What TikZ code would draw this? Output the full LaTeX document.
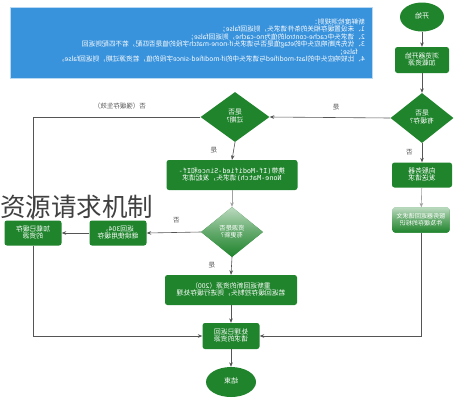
\documentclass[tikz,border=0pt]{standalone}
\usepackage{fontspec}
\setmainfont{Noto Sans CJK SC}
\newfontfamily\monof{DejaVu Sans Mono}
\usetikzlibrary{shapes.geometric,arrows.meta}
\definecolor{G}{RGB}{31,132,44}
\definecolor{B}{RGB}{56,146,220}
\definecolor{L}{RGB}{85,85,85}
\newcommand{\mt}[1]{\reflectbox{\begin{tabular}{@{}c@{}}#1\end{tabular}}}
\begin{document}
\begin{tikzpicture}[x=1pt,y=-1pt,
  gbox/.style={fill=G,rounded corners=2.5pt,text=white,inner sep=0pt,
    font=\fontsize{6.8}{8.2}\selectfont},
  gdia/.style={diamond,fill=G,text=white,inner sep=0pt,
    font=\fontsize{6.8}{8.2}\selectfont},
  term/.style={ellipse,fill=G,text=white,inner sep=0pt,
    font=\fontsize{7}{8.4}\selectfont},
  faded/.style={top color=G!30!white,bottom color=G,middle color=G!70!white},
  ln/.style={draw=L,line width=0.6pt,-{Stealth[length=4.5pt,width=3.6pt]}},
  lab/.style={text=L,font=\fontsize{6.5}{7.5}\selectfont,inner sep=0pt}]
\useasboundingbox[fill=white] (0,0) rectangle (457,400);
\renewcommand{\arraystretch}{0.78}
% blue rules box
\node[fill=B,draw=B!35!white,line width=1pt,minimum width=362pt,minimum height=71pt,anchor=north west] (rules) at (10,7) {};
\node[anchor=east,text=white,inner sep=0pt,font=\fontsize{6.7}{8}\selectfont] (rulestext) at (365,41)
 {\reflectbox{\begin{tabular}{@{}l@{}}
 新鲜度检测规则：\\
 1、未设置缓存相关的条件请求头，则返回false；\\
 2、请求头中cache-control的值为no-cache，则返回false；\\
 3、优先判断响应头中的etag值是否与请求头if-none-match字段的值是否匹配，若不匹配则返回\\
 \hspace*{7pt}false；\\
 4、比较响应头中的last-modified与请求头中的if-modified-since字段的值，若资源过期，则返回false。
 \end{tabular}}};
% nodes
\node[term,minimum width=44pt,minimum height=29pt] (start) at (422,17) {\mt{开始}};
\node[gbox,minimum width=54pt,minimum height=26pt] (load) at (422,60) {\mt{浏览器开始\\加载资源}};
\node[gdia,minimum width=63pt,minimum height=50pt] (has) at (422,118) {\mt{是否\\有缓存?}};
\node[gbox,minimum width=60pt,minimum height=25pt] (send) at (422,175) {\mt{向服务器\\发送请求}};
\node[gbox,faded,minimum width=57pt,minimum height=25pt,font=\fontsize{6.1}{7.6}\selectfont] (ret) at (421,220) {\mt{服务器返回请求文\\件及缓存的标识}};
\node[gdia,minimum width=69pt,minimum height=50pt] (exp) at (235,117) {\mt{是否\\过期?}};
\node[gbox,minimum width=131pt,minimum height=30pt] (carry) at (232,175)
 {\mt{携带{\monof(If-Modified-Since}和{\monof If-}\\{\monof None-Match)}请求头，发起请求}};
\node[gdia,faded,minimum width=62pt,minimum height=50pt,font=\fontsize{6.3}{7.6}\selectfont] (upd) at (232,232) {\mt{资源是否\\有更新?}};
\node[gbox,minimum width=57pt,minimum height=25pt] (r304) at (118,233) {\mt{返回304，\\继续使用缓存}};
\node[gbox,minimum width=57pt,minimum height=25pt] (use) at (33,233) {\mt{加载已缓存\\的资源}};
\node[gbox,minimum width=132pt,minimum height=30pt] (new) at (231,290) {\mt{重新返回新的资源（200）\\若返回缓存控制头，则进行缓存处理}};
\node[gbox,minimum width=57pt,minimum height=26pt] (done) at (231,336) {\mt{处理已返回\\请求的资源}};
\node[term,minimum width=50pt,minimum height=30pt] (end) at (231,382) {\mt{结束}};
% connectors
\draw[ln] (start) -- (load);
\draw[ln] (load) -- (has);
\draw[ln] (has.west) -- node[lab,above=6pt,pos=0.45] (l1) {\mt{是}} (exp.east);
\draw[ln] (exp.west) -| node[lab,above=6pt,pos=0.24] (l2) {\mt{否（强缓存生效）}} (use.north);
\draw[ln] (exp.south) -- node[lab,left=16pt] (l3) {\mt{是}} (carry.north);
\draw[ln,draw=L!55] (carry.south) -- (upd.north);
\draw[ln] (upd.west) -- node[lab,above=8pt,pos=0.45] (l4) {\mt{否}} (r304.east);
\draw[ln] (r304.west) -- (use.east);
\draw[ln] (upd.south) -- node[lab,left=16pt] (l5) {\mt{是}} (new.north);
\draw[ln] (new) -- (done);
\draw[ln] (done) -- (end);
\draw[ln] (use.south) |- (done.west);
\draw[ln] (has.south) -- node[lab,left=9pt] (l6) {\mt{否}} (send.north);
\draw[ln,draw=L!55] (send) -- (ret);
\draw[ln] (ret.south) |- (done.east);
% overlay title
\node[anchor=west,inner sep=0pt,text=black!75,font=\fontsize{25.5}{26}\selectfont] (title) at (0,207) {资源请求机制};
\end{tikzpicture}
\end{document}
